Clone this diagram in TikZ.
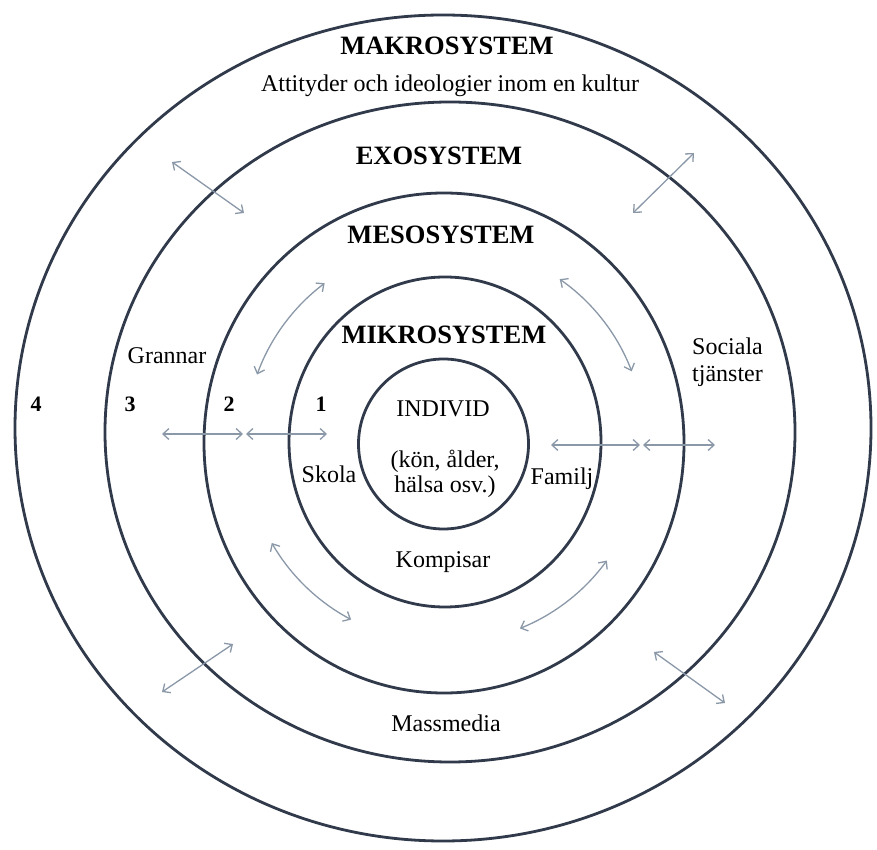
\documentclass[tikz,border=0pt]{standalone}
\usepackage{fontspec}
\setmainfont{Liberation Serif}
\usetikzlibrary{arrows.meta,calc}
\definecolor{ringcol}{RGB}{48,58,74}
\definecolor{arrcol}{RGB}{138,152,168}
\tikzset{
  ring/.style={draw=ringcol, line width=2.8pt},
  title/.style={font=\fontsize{26.5}{28}\selectfont\bfseries, anchor=base, inner sep=0pt},
  lbl/.style={font=\fontsize{24}{25}\selectfont, anchor=base, inner sep=0pt},
  num/.style={font=\fontsize{22}{24}\selectfont\bfseries, anchor=base, inner sep=0pt},
  dbl/.style={draw=arrcol, line width=1.3pt, {Straight Barb[length=6pt,width=11pt]}-{Straight Barb[length=6pt,width=11pt]}},
}
\begin{document}
\begin{tikzpicture}[x=1pt,y=1pt]
\useasboundingbox (0,0) rectangle (877,849);
\fill[white] (0,0) rectangle (877,849);
% rings
\draw[ring] (443,421) ellipse [x radius=428, y radius=413];
\draw[ring] (450,417) ellipse [x radius=345, y radius=330];
\draw[ring] (444,406) ellipse [x radius=240, y radius=250];
\draw[ring] (445,407) ellipse [x radius=156, y radius=165];
\draw[ring] (443.5,405) ellipse [x radius=85, y radius=85];
% titles
\node[title] (makro) at (447,794) {MAKROSYSTEM};
\node[lbl] (att) at (450,757) {Attityder och ideologier inom en kultur};
\node[title] (exo) at (439,684) {EXOSYSTEM};
\node[title] (meso) at (441,605) {MESOSYSTEM};
\node[title] (mikro) at (444,505) {MIKROSYSTEM};
% labels
\node[lbl] (grannar) at (167,485) {Grannar};
\node[lbl, anchor=base west] (sociala) at (692,494) {Sociala};
\node[lbl, anchor=base west] (tjanster) at (692,467) {tjänster};
\node[lbl] (individ) at (443,432) {INDIVID};
\node[lbl, align=center, anchor=base] (kon) at (445,356) {(kön, ålder,\\hälsa osv.)};
\node[lbl] (skola) at (329,366) {Skola};
\node[lbl] (familj) at (562,364) {Familj};
\node[lbl] (kompisar) at (443,282) {Kompisar};
\node[lbl] (massmedia) at (446,118) {Massmedia};
\node[num] (n4) at (36,437) {4};
\node[num] (n3) at (130,437) {3};
\node[num] (n2) at (229,437) {2};
\node[num] (n1) at (321,437) {1};
% straight arrows
\coordinate (tla) at (172,687); \coordinate (tlb) at (244,636);
\coordinate (tra) at (694,696); \coordinate (trb) at (633,636);
\coordinate (bla) at (233,205); \coordinate (blb) at (162,157);
\coordinate (bra) at (654,197); \coordinate (brb) at (725,146);
\draw[dbl] (tla) -- (tlb);
\draw[dbl] (tra) -- (trb);
\draw[dbl] (bla) -- (blb);
\draw[dbl] (bra) -- (brb);
\coordinate (h1) at (162,415); \coordinate (h2) at (243,415);
\coordinate (h3) at (246,415); \coordinate (h4) at (327,415);
\coordinate (h5) at (551,404); \coordinate (h6) at (640,404);
\coordinate (h7) at (643,404); \coordinate (h8) at (715,404);
\draw[dbl] (h1) -- (h2);
\draw[dbl] (h3) -- (h4);
\draw[dbl] (h5) -- (h6);
\draw[dbl] (h7) -- (h8);
% curved arrows in the mesosystem ring
\coordinate (c) at (445,406);
\draw[dbl] ($(c)+(127:200)$) arc[start angle=127, end angle=160, radius=200];
\draw[dbl] ($(c)+(55:200)$) arc[start angle=55, end angle=21, radius=200];
\draw[dbl] ($(c)+(210:200)$) arc[start angle=210, end angle=242, radius=200];
\draw[dbl] ($(c)+(324:200)$) arc[start angle=324, end angle=292, radius=200];
\end{tikzpicture}
\end{document}
